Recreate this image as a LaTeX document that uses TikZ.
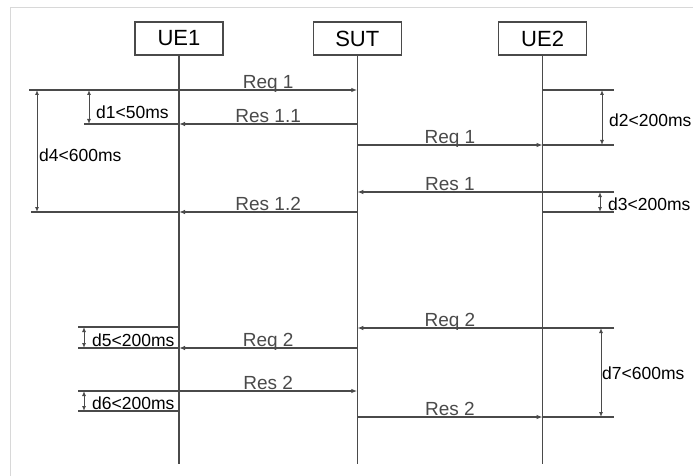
\documentclass[tikz,border=0pt]{standalone}
\usepackage{fontspec}
\setmainfont{Liberation Sans}
\usetikzlibrary{arrows.meta,positioning,calc}
\definecolor{sqLine}{HTML}{4A4A4A}
\definecolor{sqFrame}{HTML}{D8D8D8}
\tikzset{
  lifebox/.style={draw=sqLine, line width=1.3pt, minimum width=88pt, minimum height=33pt,
    inner sep=0pt, font=\fontsize{22}{24}\selectfont},
  lifeline/.style={sqLine, line width=1.2pt},
  msg/.style={-{Latex[length=6pt,width=4.5pt]}, sqLine, line width=1.2pt},
  ext/.style={sqLine, line width=1.2pt},
  dim/.style={{Latex[length=5pt,width=4pt]}-{Latex[length=5pt,width=4pt]}, sqLine, line width=1pt},
  msglabel/.style={font=\fontsize{19}{20}\selectfont, inner sep=0pt, anchor=base, yshift=1.5pt},
  dimlabel/.style={font=\fontsize{17.5}{18}\selectfont, inner sep=0pt, anchor=west}
}
\begin{document}
\begin{tikzpicture}[x=1pt, y=-1pt]
  \useasboundingbox (0,0) rectangle (693,476);
  % frame of the screenshot
  \draw[sqFrame, line width=1pt] (10,476) -- (10,8) -- (693,8);

  % participants
  \node[lifebox] (ue1) at (179,38.5) {UE1};
  \node[lifebox, right=89pt of ue1] (sut) {SUT};
  \node[lifebox, right=96pt of sut] (ue2) {UE2};
  \foreach \p in {ue1,sut,ue2}{\coordinate (\p end) at (\p.south |- 0,464);}
  \foreach \p in {ue1,sut,ue2}{\draw[lifeline] (\p.south) -- (\p end);}

  % points on the lifelines
  \coordinate (u1a) at (ue1.south |- 0,90);   \coordinate (sa) at (sut.south |- 0,90);
  \coordinate (u2a) at (ue2.south |- 0,90);
  \coordinate (u1b) at (ue1.south |- 0,124);  \coordinate (sb) at (sut.south |- 0,124);
  \coordinate (sc) at (sut.south |- 0,145);   \coordinate (u2c) at (ue2.south |- 0,145);
  \coordinate (sd) at (sut.south |- 0,192);   \coordinate (u2d) at (ue2.south |- 0,192);
  \coordinate (u1e) at (ue1.south |- 0,212);  \coordinate (se) at (sut.south |- 0,212);
  \coordinate (u2e) at (ue2.south |- 0,212);
  \coordinate (sf) at (sut.south |- 0,328);   \coordinate (u2f) at (ue2.south |- 0,328);
  \coordinate (u1g) at (ue1.south |- 0,327);
  \coordinate (u1h) at (ue1.south |- 0,348);  \coordinate (sh) at (sut.south |- 0,348);
  \coordinate (u1i) at (ue1.south |- 0,391);  \coordinate (si) at (sut.south |- 0,391);
  \coordinate (u1j) at (ue1.south |- 0,411);
  \coordinate (sk) at (sut.south |- 0,417);   \coordinate (u2k) at (ue2.south |- 0,417);

  % free ends of the timing lines
  \coordinate (la) at (29,90);   \coordinate (lb) at (84,124);  \coordinate (le) at (31,212);
  \coordinate (lg) at (78,327);  \coordinate (lh) at (78,348);
  \coordinate (li) at (78,391);  \coordinate (lj) at (78,411);
  \coordinate (ra) at (614,90);  \coordinate (rc) at (614,145); \coordinate (rd) at (614,192);
  \coordinate (re) at (614,212); \coordinate (rf) at (614,328); \coordinate (rk) at (614,417);

  % messages
  \draw[ext] (la) -- (u1a);
  \draw[msg] (u1a) -- node[msglabel]{Req 1} (sa);
  \draw[ext] (u2a) -- (ra);
  \draw[msg] (sb) -- node[msglabel]{Res 1.1} (u1b);
  \draw[ext] (u1b) -- (lb);
  \draw[msg] (sc) -- node[msglabel]{Req 1} (u2c);
  \draw[ext] (u2c) -- (rc);
  \draw[ext] (rd) -- (u2d);
  \draw[msg] (u2d) -- node[msglabel]{Res 1} (sd);
  \draw[msg] (se) -- node[msglabel]{Res 1.2} (u1e);
  \draw[ext] (u1e) -- (le);
  \draw[ext] (u2e) -- (re);
  \draw[ext] (rf) -- (u2f);
  \draw[msg] (u2f) -- node[msglabel]{Req 2} (sf);
  \draw[ext] (lg) -- (u1g);
  \draw[msg] (sh) -- node[msglabel]{Req 2} (u1h);
  \draw[ext] (u1h) -- (lh);
  \draw[ext] (li) -- (u1i);
  \draw[msg] (u1i) -- node[msglabel]{Res 2} (si);
  \draw[ext] (lj) -- (u1j);
  \draw[msg] (sk) -- node[msglabel]{Res 2} (u2k);
  \draw[ext] (u2k) -- (rk);

  % delays
  \draw[dim] (89,90) coordinate (d1a) -- (89,124) coordinate (d1b);
  \node[dimlabel] (d1) at (96,112) {d1<50ms};
  \draw[dim] (37,90) coordinate (d4a) -- (37,212) coordinate (d4b);
  \node[dimlabel] (d4) at (39,155) {d4<600ms};
  \draw[dim] (602,90) coordinate (d2a) -- (602,145) coordinate (d2b);
  \node[dimlabel] (d2) at (609,120) {d2<200ms};
  \draw[dim] (600,192) coordinate (d3a) -- (600,212) coordinate (d3b);
  \node[dimlabel] (d3) at (608,204) {d3<200ms};
  \draw[dim] (84,327) coordinate (d5a) -- (84,348) coordinate (d5b);
  \node[dimlabel] (d5) at (92,340) {d5<200ms};
  \draw[dim] (84,391) coordinate (d6a) -- (84,411) coordinate (d6b);
  \node[dimlabel] (d6) at (92,403) {d6<200ms};
  \draw[dim] (601,328) coordinate (d7a) -- (601,417) coordinate (d7b);
  \node[dimlabel] (d7) at (602,373) {d7<600ms};
\end{tikzpicture}
\end{document}
